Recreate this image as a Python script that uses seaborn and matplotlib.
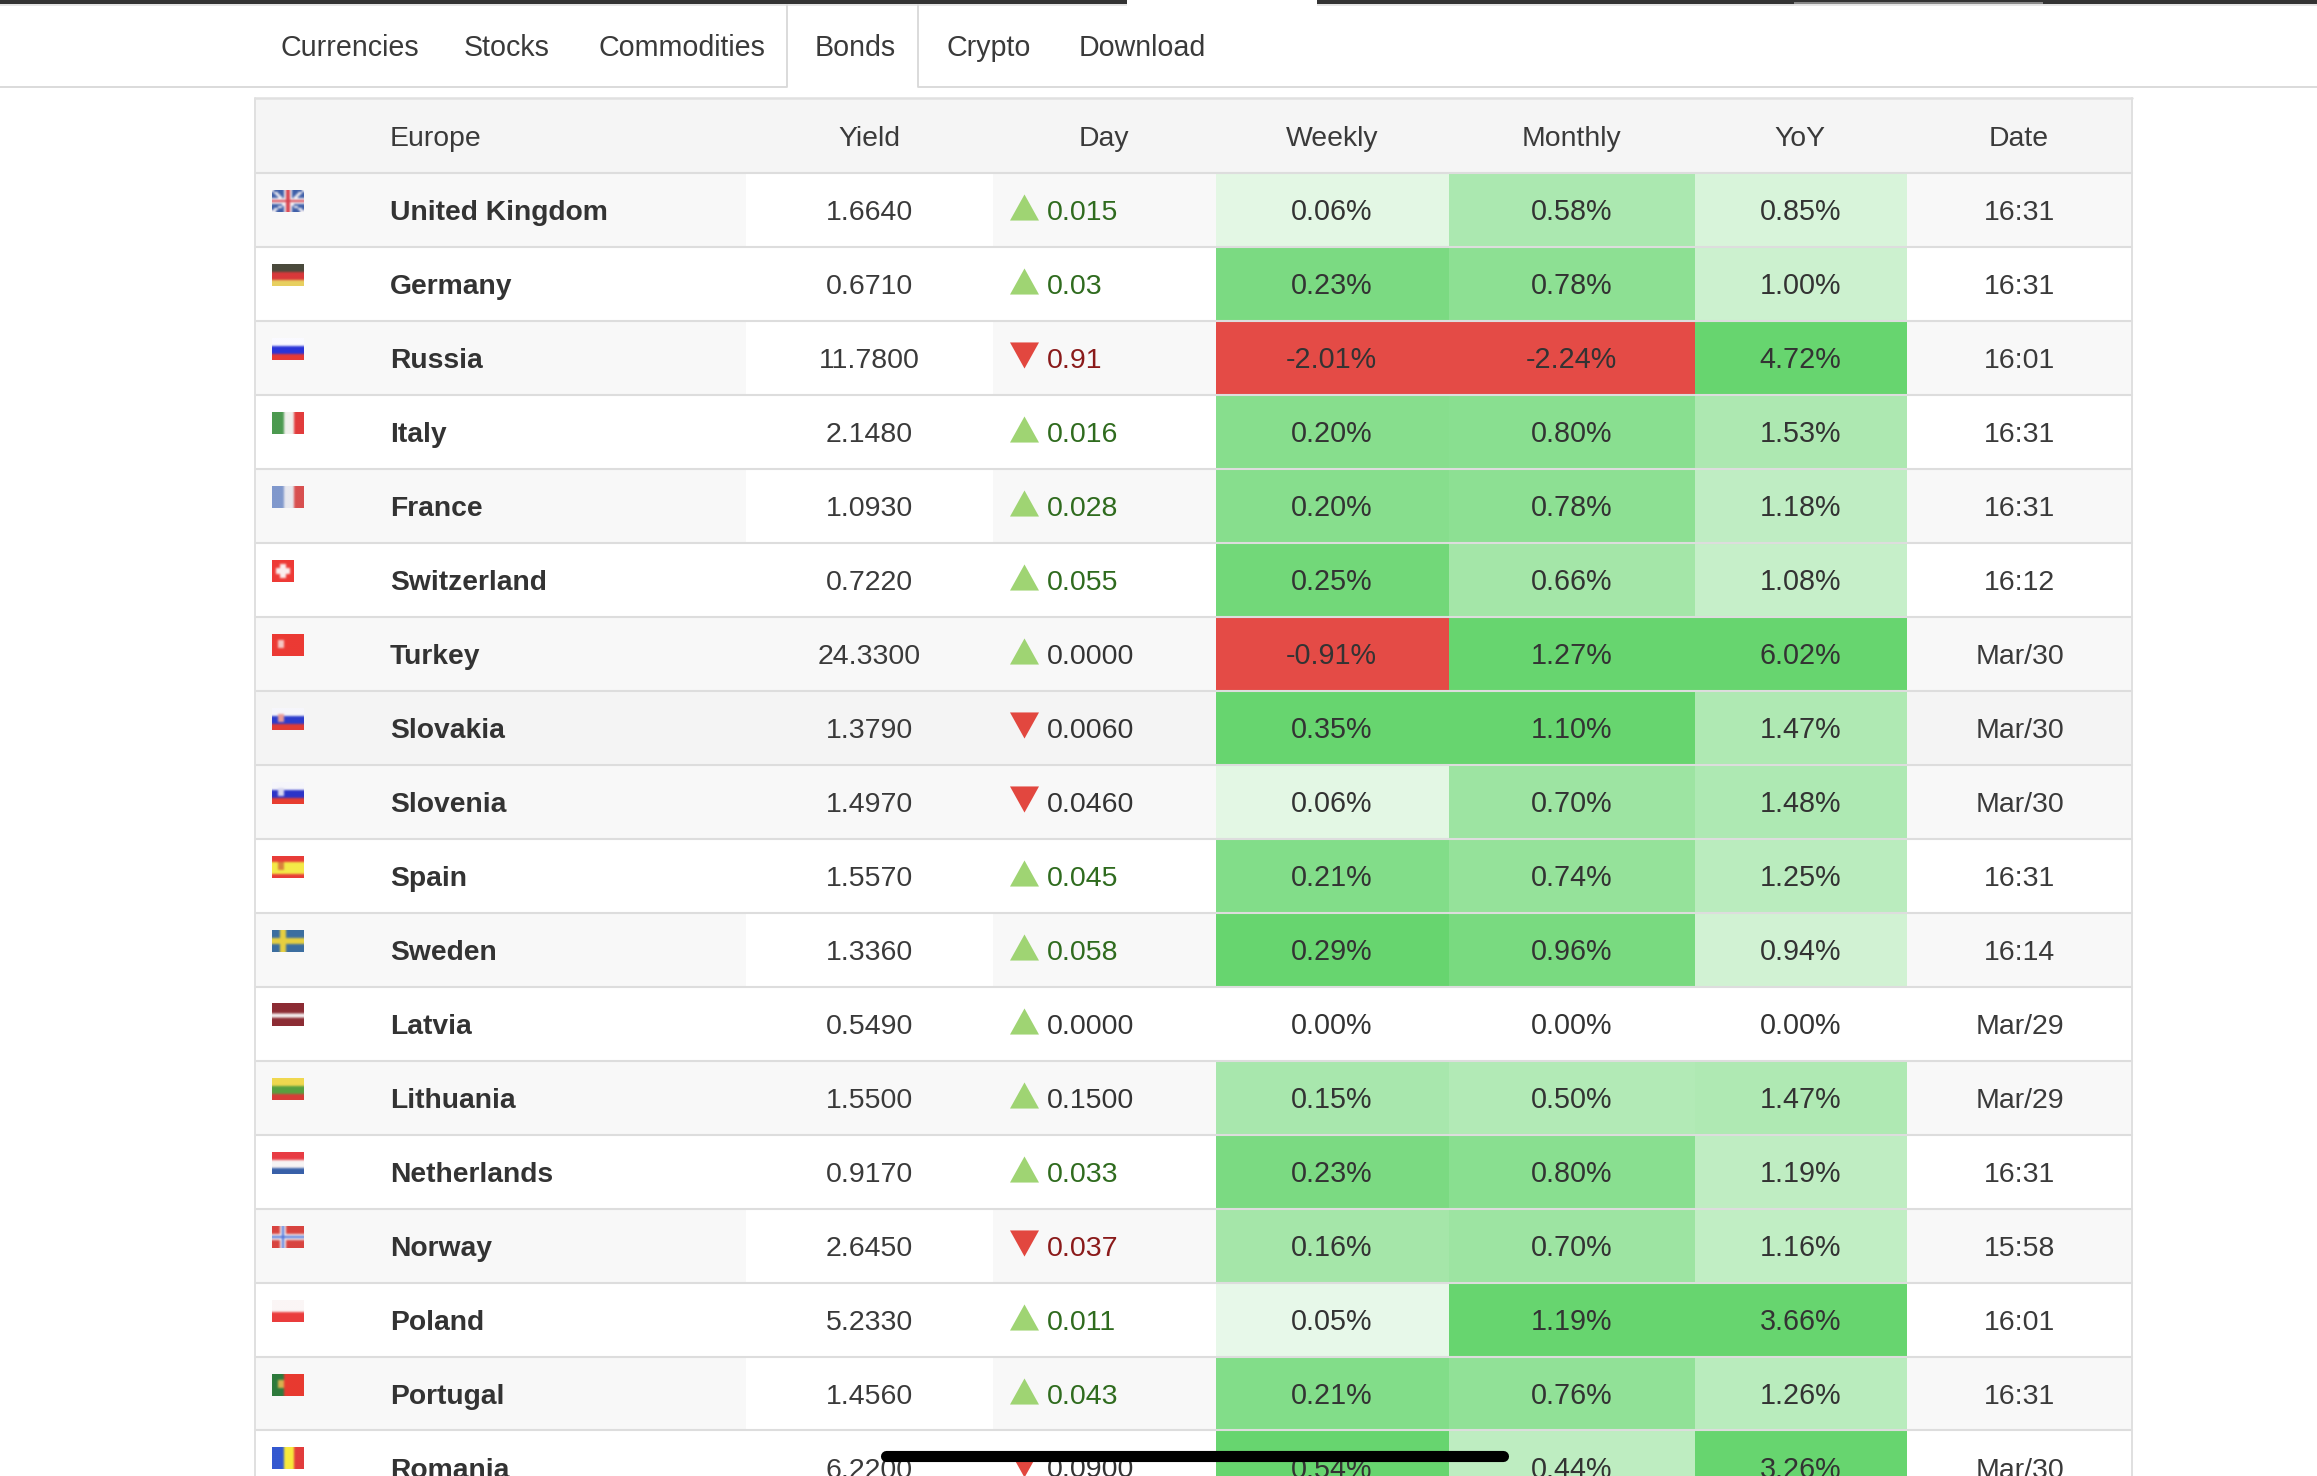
import numpy as np
import matplotlib.pyplot as plt
import seaborn as sns
import pandas as pd
from matplotlib.colors import LinearSegmentedColormap, to_rgb

LEBAR = 2317
TINGGI = 1476

menu = ['Currencies', 'Stocks', 'Commodities', 'Bonds', 'Crypto', 'Download']
kolom = ['Europe', 'Yield', 'Day', 'Weekly', 'Monthly', 'YoY', 'Date']
negara = ['United Kingdom', 'Germany', 'Russia', 'Italy', 'France', 'Switzerland', 'Turkey', 'Slovakia', 'Slovenia',
          'Spain', 'Sweden', 'Latvia', 'Lithuania', 'Netherlands', 'Norway', 'Poland', 'Portugal', 'Romania']
yield_obligasi = [1.6640, 0.6710, 11.7800, 2.1480, 1.0930, 0.7220, 24.3300, 1.3790, 1.4970,
                  1.5570, 1.3360, 0.5490, 1.5500, 0.9170, 2.6450, 5.2330, 1.4560, 6.2200]
harian = ['0.015', '0.03', '0.91', '0.016', '0.028', '0.055', '0.0000', '0.0060', '0.0460',
          '0.045', '0.058', '0.0000', '0.1500', '0.033', '0.037', '0.011', '0.043', '0.0900']
arah = [1, 1, -1, 1, 1, 1, 1, -1, -1, 1, 1, 1, 1, 1, -1, 1, 1, -1]
mingguan = [0.06, 0.23, -2.01, 0.20, 0.20, 0.25, -0.91, 0.35, 0.06, 0.21, 0.29, 0.00, 0.15, 0.23, 0.16, 0.05, 0.21, 0.54]
bulanan = [0.58, 0.78, -2.24, 0.80, 0.78, 0.66, 1.27, 1.10, 0.70, 0.74, 0.96, 0.00, 0.50, 0.80, 0.70, 1.19, 0.76, 0.44]
tahunan = [0.85, 1.00, 4.72, 1.53, 1.18, 1.08, 6.02, 1.47, 1.48, 1.25, 0.94, 0.00, 1.47, 1.19, 1.16, 3.66, 1.26, 3.26]
tanggal = ['16:31', '16:31', '16:01', '16:31', '16:31', '16:12', 'Mar/30', 'Mar/30', 'Mar/30',
           '16:31', '16:14', 'Mar/29', 'Mar/29', '16:31', '15:58', '16:01', '16:31', 'Mar/30']

# Warna latar tiap baris dan warna kolom Yield
latar_baris = ['#f8f8f8', '#ffffff', '#f8f8f8', '#ffffff', '#f8f8f8', '#ffffff', '#f8f8f8', '#f4f4f4', '#f8f8f8',
               '#ffffff', '#f8f8f8', '#ffffff', '#f8f8f8', '#ffffff', '#f8f8f8', '#ffffff', '#f8f8f8', '#ffffff']
latar_yield = ['#ffffff', '#ffffff', '#ffffff', '#ffffff', '#ffffff', '#ffffff', '#f8f8f8', '#f4f4f4', '#f8f8f8',
               '#ffffff', '#ffffff', '#ffffff', '#f8f8f8', '#ffffff', '#ffffff', '#ffffff', '#ffffff', '#ffffff']

# Bendera: arah garis lalu warnanya, dari atas atau dari kiri
bendera = {
    'United Kingdom': ('inggris', ['#3f5fa8', '#f4f0f4', '#d8434f']),
    'Germany': ('h', ['#4a4a3c', '#d8383a', '#e8d060']),
    'Russia': ('h', ['#fafaff', '#2a34d8', '#e83a34']),
    'Italy': ('v', ['#4c9a50', '#f0f0ec', '#e23c3c']),
    'France': ('v', ['#8098cc', '#e8e8ee', '#d85050']),
    'Switzerland': ('swiss', ['#ee3a36', '#fbeeee']),
    'Turkey': ('h', ['#ec3a34', '#ec3a34', '#ec3a34']),
    'Slovakia': ('h', ['#f6f6fb', '#2c3ccc', '#e23c34']),
    'Slovenia': ('h', ['#f6f6fb', '#2c34c8', '#e83e30']),
    'Spain': ('h', ['#e83c38', '#f4ea48', '#f4ea48', '#e83c38']),
    'Sweden': ('silang', ['#3c6ea0', '#e8d040', '#e8d040']),
    'Latvia': ('h', ['#8c2c34', '#8c2c34', '#f4eeee', '#8c2c34', '#8c2c34']),
    'Lithuania': ('h', ['#f0d850', '#58a040', '#d83c38']),
    'Netherlands': ('h', ['#e83c44', '#f8f4f4', '#3860a8']),
    'Norway': ('silang', ['#d84440', '#f0f0f4', '#4a70d8']),
    'Poland': ('h', ['#fbf6f6', '#ea3c3c']),
    'Portugal': ('v', ['#2e7a3c', '#e83a30', '#e83a30']),
    'Romania': ('v', ['#3458d0', '#f8ea3c', '#e23c3c']),
}
# Lambang kecil di dekat sisi kiri bendera
lambang = {'Turkey': '#f6c8c4', 'Slovakia': '#e89a98', 'Slovenia': '#d8d8f0', 'Spain': '#d8823c', 'Portugal': '#d8b050'}

KIRI = 255
KANAN = 2132
ATAS = 98
BARIS_ATAS = 173
TINGGI_BARIS = 73.97
TEPI_PANAS = [1216, 1449, 1695, 1907]  # batas kolom Weekly, Monthly, YoY


def tepi(i):
    return BARIS_ATAS + i * TINGGI_BARIS


def campur_hijau(t):
    putih = np.array(to_rgb('#ffffff'))
    hijau = np.array(to_rgb('#67d56f'))
    return tuple(putih + (hijau - putih) * t)


def gambar_heatmap(nilai, x0, x1, batas):
    # Di bawah nol merah, di atas nol putih ke hijau (tidak lurus)
    titik = [(0, '#e44b46'), (0.499, '#e44b46'), (0.5, '#ffffff')]
    for t, g in [(0.25, 0.21), (0.45, 0.5), (0.6, 0.6), (0.75, 0.8), (0.9, 0.9), (1, 1)]:
        titik.append((0.5 + t / 2, campur_hijau(g)))
    cmap = LinearSegmentedColormap.from_list('hasil', titik, N=512)
    tabel = pd.DataFrame({'nilai': nilai})
    y_bawah = tepi(len(nilai))
    plt.axes([x0 / LEBAR, 1 - y_bawah / TINGGI, (x1 - x0) / LEBAR, (y_bawah - BARIS_ATAS) / TINGGI])
    sns.heatmap(tabel, cmap=cmap, vmin=-batas, vmax=batas, cbar=False, xticklabels=False, yticklabels=False)


def buat_bendera(nama):
    jenis, warna = bendera[nama]
    warna = [to_rgb(w) for w in warna]
    gambar = np.zeros((11, 16, 3))
    if jenis == 'h':
        for b, w in zip(np.array_split(np.arange(11), len(warna)), warna):
            gambar[b, :] = w
    elif jenis == 'v':
        for b, w in zip(np.array_split(np.arange(16), len(warna)), warna):
            gambar[:, b] = w
    elif jenis == 'swiss':
        gambar = np.zeros((11, 11, 3))
        gambar[:] = warna[0]
        gambar[4:7, 2:9] = warna[1]
        gambar[2:9, 4:7] = warna[1]
    elif jenis == 'inggris':
        gambar[:] = warna[0]
        for y in range(11):
            x = int(round(y * 15 / 10))
            gambar[y, max(x - 1, 0):x + 1] = warna[1]
            gambar[y, 15 - x:min(15 - x + 2, 16)] = warna[1]
        gambar[4:7, :] = warna[1]
        gambar[:, 6:10] = warna[1]
        gambar[5, :] = warna[2]
        gambar[:, 7:9] = warna[2]
    else:
        gambar[:] = warna[0]
        gambar[4:7, :] = warna[1]
        gambar[:, 4:7] = warna[1]
        gambar[5, :] = warna[2]
        gambar[:, 5] = warna[2]
    if nama in lambang:
        gambar[3:7, 3:6] = to_rgb(lambang[nama])
    return gambar


def gambar_navigasi(ax):
    # Garis gelap di atas, ada celah di tab yang aktif
    ax.plot([0, 1127], [2, 2], color='#333333', lw=3, solid_capstyle='butt')
    ax.plot([1317, LEBAR], [2, 2], color='#333333', lw=3, solid_capstyle='butt')
    ax.plot([1794, 2043], [3, 3], color='#9a9a9a', lw=1.2, solid_capstyle='butt')
    ax.plot([0, 1127], [5, 5], color='#e2e2e2', lw=1.2, solid_capstyle='butt')
    ax.plot([1317, LEBAR], [5, 5], color='#e2e2e2', lw=1.2, solid_capstyle='butt')
    ax.plot([0, 787, 787], [87, 87, 5], color='#d8d8d8', lw=1.3)
    ax.plot([918, 918, LEBAR], [5, 87, 87], color='#d8d8d8', lw=1.3)

    x_menu = [281, 464, 598, 815, 946, 1079]
    for x, teks in zip(x_menu, menu):
        ax.text(x, 56, teks, fontsize=20.6, color='#3a3a3a', va='baseline')


def gambar_latar(ax):
    ax.barh([135], [KANAN - KIRI], height=74, left=KIRI, color='#f5f5f5', linewidth=0)
    y_baris = [tepi(i) + TINGGI_BARIS / 2 for i in range(len(negara))]
    ax.barh(y_baris, [746 - KIRI] * len(negara), height=TINGGI_BARIS, left=KIRI, color=latar_baris, linewidth=0)
    ax.barh(y_baris, [247] * len(negara), height=TINGGI_BARIS, left=746, color=latar_yield, linewidth=0)
    ax.barh(y_baris, [223] * len(negara), height=TINGGI_BARIS, left=993, color=latar_baris, linewidth=0)
    ax.barh(y_baris, [KANAN - 1907] * len(negara), height=TINGGI_BARIS, left=1907, color=latar_baris, linewidth=0)

    # Garis pemisah baris di atas semua sel
    ax.plot([KIRI, KANAN], [ATAS, ATAS], color='#e0e0e0', lw=1.8)
    for i in range(len(negara) + 1):
        ax.plot([KIRI, KANAN], [tepi(i), tepi(i)], color='#dddddd', lw=1.5)
    ax.plot([KIRI, KIRI], [ATAS, TINGGI], color='#e0e0e0', lw=1.4)
    ax.plot([KANAN, KANAN], [ATAS, TINGGI], color='#e0e0e0', lw=1.4)


def gambar_teks(ax):
    x_kolom = [390, 869, 1104, 1332, 1571, 1800, 2019]
    for x, teks in zip(x_kolom, kolom):
        ax.text(x, 146, teks, fontsize=20.4, color='#3a3a3a', ha='left' if teks == 'Europe' else 'center', va='baseline')

    for i, nama in enumerate(negara):
        y = tepi(i) + 47.5
        ax.text(390, y, nama, fontsize=20.3, fontweight='bold', color='#333333', va='baseline')
        ax.text(869.5, y, f'{yield_obligasi[i]:.4f}', fontsize=20.5, color='#3a3a3a', ha='center', va='baseline')

        # Hijau atau merah hanya untuk data hari ini, data lama abu-abu
        if '/' in tanggal[i]:
            warna = '#333333'
        elif arah[i] > 0:
            warna = '#2f6b1e'
        else:
            warna = '#8a1a1a'
        ax.text(1046.5, y - 0.5, harian[i], fontsize=20.5, color=warna, va='baseline')

        ax.text(1331.5, y, f'{mingguan[i]:.2f}%', fontsize=20.7, color='#333333', ha='center', va='baseline')
        ax.text(1571.5, y, f'{bulanan[i]:.2f}%', fontsize=20.7, color='#333333', ha='center', va='baseline')
        ax.text(1800.5, y, f'{tahunan[i]:.2f}%', fontsize=20.7, color='#333333', ha='center', va='baseline')
        ax.text(2019.5, y, tanggal[i], fontsize=20.5, color='#3a3a3a', ha='center', va='baseline')


def gambar_segitiga(ax):
    tabel = pd.DataFrame({'x': [1024] * len(negara), 'y': [tepi(i) + 34 for i in range(len(negara))], 'arah': arah})
    naik = tabel[tabel['arah'] > 0]
    turun = tabel[tabel['arah'] < 0]
    sns.scatterplot(data=naik, x='x', y='y', marker=[(-1, -0.9), (1, -0.9), (0, 0.9)], s=436, color='#9fd473', linewidth=0, ax=ax)
    sns.scatterplot(data=turun, x='x', y='y', marker=[(-1, 0.9), (1, 0.9), (0, -0.9)], s=436, color='#e2473f', linewidth=0, ax=ax)


def gambar_bendera(ax):
    for i, nama in enumerate(negara):
        gambar = buat_bendera(nama)
        lebar = 22 if nama == 'Switzerland' else 32
        y = tepi(i) + 17
        ax.imshow(gambar, extent=(272, 272 + lebar, y + 22, y), interpolation='bicubic', aspect='auto', zorder=3)


sns.set_theme(style='white')
plt.rcParams['font.family'] = 'Liberation Sans'

fig = plt.figure(figsize=(LEBAR / 100, TINGGI / 100), dpi=100, facecolor='white')

# Tiap kolom persen punya skala warna sendiri
gambar_heatmap(mingguan, TEPI_PANAS[0], TEPI_PANAS[1], 0.27)
gambar_heatmap(bulanan, TEPI_PANAS[1], TEPI_PANAS[2], 1.1)
gambar_heatmap(tahunan, TEPI_PANAS[2], TEPI_PANAS[3], 3.0)

ax = plt.axes([0, 0, 1, 1], zorder=5)
ax.patch.set_alpha(0)
gambar_navigasi(ax)
gambar_latar(ax)
gambar_segitiga(ax)
gambar_bendera(ax)
gambar_teks(ax)

# Garis hitam bawah layar ponsel
ax.plot([886, 1503], [1455.5, 1455.5], color='black', lw=8, solid_capstyle='round', zorder=10)

ax.set_xlim(0, LEBAR)
ax.set_ylim(TINGGI, 0)
ax.axis('off')
plt.savefig('out.png', dpi=100)
